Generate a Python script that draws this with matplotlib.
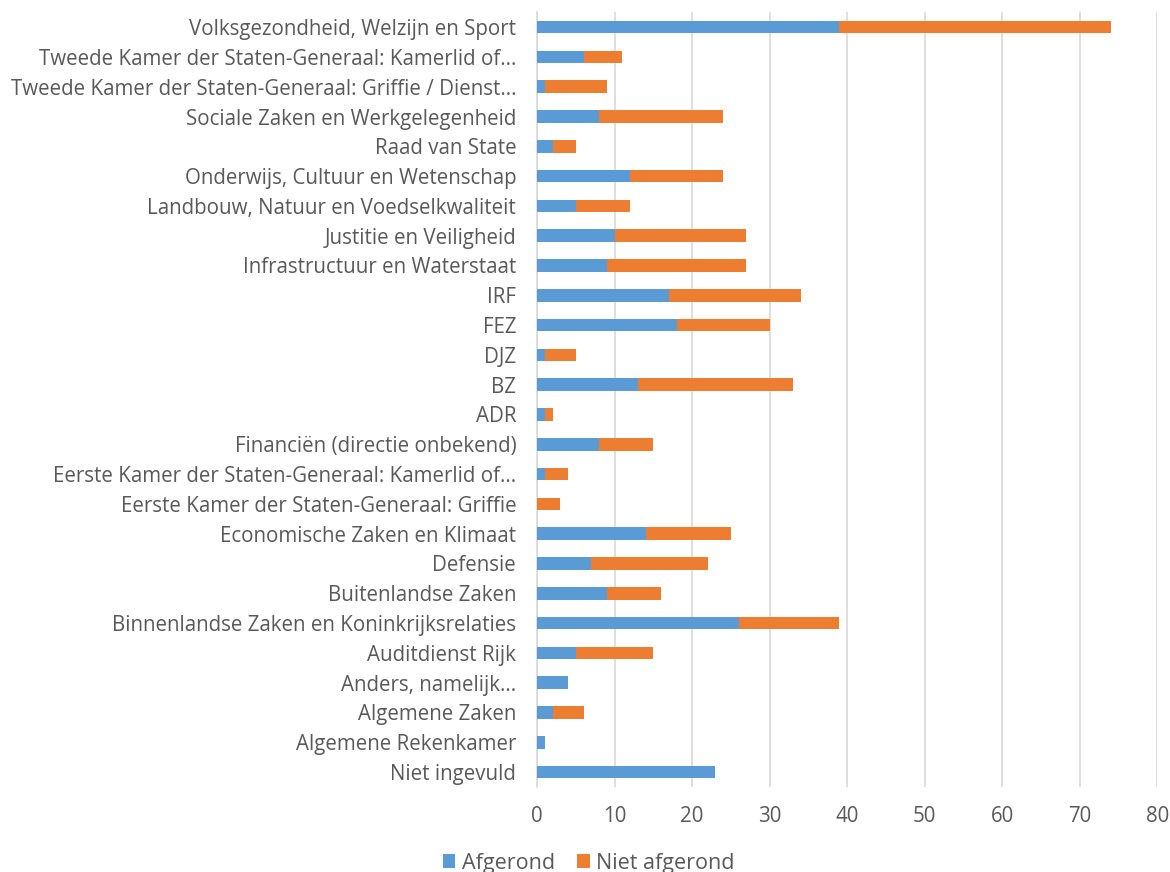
import matplotlib
matplotlib.use("Agg")
from matplotlib import pyplot as plt
import numpy as np

plt.rcParams['font.family'] = ['Open Sans', 'DejaVu Sans']

# categories top to bottom, as in the picture
categories = [
    "Volksgezondheid, Welzijn en Sport",
    "Tweede Kamer der Staten-Generaal: Kamerlid of...",
    "Tweede Kamer der Staten-Generaal: Griffie / Dienst...",
    "Sociale Zaken en Werkgelegenheid",
    "Raad van State",
    "Onderwijs, Cultuur en Wetenschap",
    "Landbouw, Natuur en Voedselkwaliteit",
    "Justitie en Veiligheid",
    "Infrastructuur en Waterstaat",
    "IRF",
    "FEZ",
    "DJZ",
    "BZ",
    "ADR",
    "Financiën (directie onbekend)",
    "Eerste Kamer der Staten-Generaal: Kamerlid of...",
    "Eerste Kamer der Staten-Generaal: Griffie",
    "Economische Zaken en Klimaat",
    "Defensie",
    "Buitenlandse Zaken",
    "Binnenlandse Zaken en Koninkrijksrelaties",
    "Auditdienst Rijk",
    "Anders, namelijk...",
    "Algemene Zaken",
    "Algemene Rekenkamer",
    "Niet ingevuld",
]
afgerond = [39, 6, 1, 8, 2, 12, 5, 10, 9, 17, 18, 1, 13, 1, 8, 1, 0, 14, 7, 9, 26, 5, 4, 2, 1, 23]
niet_afgerond = [35, 5, 8, 16, 3, 12, 7, 17, 18, 17, 12, 4, 20, 1, 7, 3, 3, 11, 15, 7, 13, 10, 0, 4, 0, 0]

blue = '#5B9BD5'
orange = '#ED7D31'
txt = '#595959'

fig = plt.figure(figsize=(11.7, 8.72), dpi=100)
ax = fig.add_axes([0.459, 0.0975, 0.53, 0.8885])

y = np.arange(len(categories))
ax.barh(y, afgerond, height=0.42, color=blue, label='Afgerond', zorder=3)
ax.barh(y, niet_afgerond, left=afgerond, height=0.42, color=orange, label='Niet afgerond', zorder=3)

ax.set_ylim(len(categories) - 0.5, -0.5)
ax.set_xlim(0, 80)
ax.set_xticks(range(0, 81, 10))
ax.set_yticks(y)
ax.set_yticklabels(categories)
ax.tick_params(axis='both', length=0, labelsize=14.8, colors=txt)
ax.tick_params(axis='x', pad=14)
ax.tick_params(axis='y', pad=15)
ax.grid(axis='x', color='#D9D9D9', linewidth=1.2, zorder=0)
for s in ['top', 'right', 'bottom']:
    ax.spines[s].set_visible(False)
ax.spines['left'].set_color('#D9D9D9')
ax.spines['left'].set_linewidth(1.2)

fig.legend(loc='center', bbox_to_anchor=(0.503, 0.01), ncol=2, frameon=False,
           fontsize=15.5, labelcolor=txt, handlelength=0.6, handleheight=0.6,
           handletextpad=0.3, columnspacing=1.0)

fig.savefig('out.png', dpi=100)
